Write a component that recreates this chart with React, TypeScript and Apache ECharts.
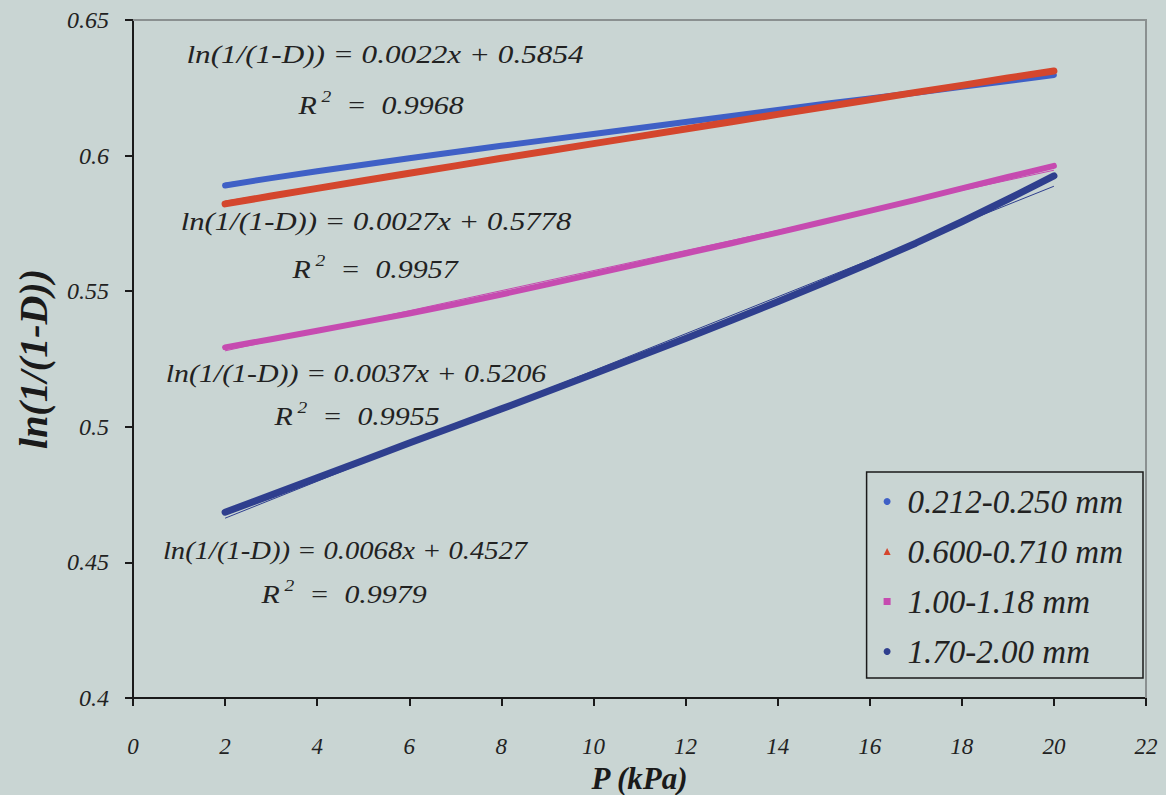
import React, { useEffect, useRef } from "react";
import * as echarts from "echarts";

const pressure = [2, 3, 4, 5, 6, 7, 8, 9, 10, 11, 12, 13, 14, 15, 16, 17, 18, 19, 20];

const sizeA = [0.5890, 0.5917, 0.5942, 0.5966, 0.5990, 0.6013, 0.6036, 0.6058, 0.6080, 0.6102, 0.6124, 0.6146, 0.6168, 0.6190, 0.6211, 0.6232, 0.6254, 0.6275, 0.6297];
const sizeB = [0.5822, 0.5851, 0.5879, 0.5907, 0.5935, 0.5962, 0.5990, 0.6017, 0.6044, 0.6071, 0.6098, 0.6125, 0.6152, 0.6179, 0.6206, 0.6233, 0.6259, 0.6286, 0.6312];
const sizeC = [0.5293, 0.5323, 0.5354, 0.5386, 0.5418, 0.5452, 0.5488, 0.5525, 0.5563, 0.5601, 0.5639, 0.5677, 0.5716, 0.5756, 0.5796, 0.5837, 0.5879, 0.5921, 0.5962];
const sizeD = [0.4685, 0.4748, 0.4812, 0.4876, 0.4940, 0.5003, 0.5066, 0.5130, 0.5195, 0.5260, 0.5326, 0.5393, 0.5461, 0.5531, 0.5603, 0.5677, 0.5756, 0.5839, 0.5925];

const seriesNames = ["0.212-0.250 mm", "0.600-0.710 mm", "1.00-1.18 mm", "1.70-2.00 mm"];
const slopes = [0.0022, 0.0027, 0.0037, 0.0068];
const intercepts = [0.5854, 0.5778, 0.5206, 0.4527];
const r2Values = ["0.9968", "0.9957", "0.9955", "0.9979"];

const colors = ["#3F60C6", "#D4462D", "#C64BB0", "#2F3F8E"];
const icons = ["circle", "triangle", "rect", "circle"];
const FONT = "Liberation Serif";

export default function App() {
  const ref = useRef<HTMLDivElement>(null);
  useEffect(() => {
    if (!ref.current) return;
    const chart = echarts.init(ref.current, null, { renderer: "svg" });
    const allData = [sizeA, sizeB, sizeC, sizeD];
    const widths = [6, 7, 6, 7];
    const dataSeries = allData.map((vals, i) => ({
      name: seriesNames[i],
      type: "line",
      data: vals.map((v, k) => [pressure[k], v]),
      showSymbol: false,
      symbol: icons[i],
      lineStyle: { width: widths[i], color: colors[i], cap: "round", join: "round" },
      itemStyle: { color: colors[i] },
      z: 3,
    }));
    const trendSeries = slopes.map((a, i) => {
      const x0 = pressure[0];
      const x1 = pressure[pressure.length - 1];
      return {
        name: "trend" + i,
        type: "line",
        data: [
          [x0, a * x0 + intercepts[i]],
          [x1, a * x1 + intercepts[i]],
        ],
        showSymbol: false,
        symbol: "none",
        lineStyle: { width: 1, color: colors[i] },
        z: 2,
        silent: true,
      };
    });

    const eqLabels = [
      { x: 385, y: 54, sx: 1.2, rx: 381, ry: 103 },
      { x: 376, y: 221, sx: 1.18, rx: 375, ry: 267 },
      { x: 356, y: 373, sx: 1.15, rx: 357, ry: 414 },
      { x: 345, y: 550, sx: 1.1, rx: 344, ry: 592 },
    ];
    const graphics: any[] = [];
    eqLabels.forEach((p, i) => {
      graphics.push({
        type: "text",
        x: p.x,
        y: p.y,
        scaleX: p.sx,
        style: {
          text: `ln(1/(1-D)) = ${slopes[i].toFixed(4)}x + ${intercepts[i].toFixed(4)}`,
          fontFamily: FONT,
          fontStyle: "italic",
          fontSize: 26,
          fill: "#222",
          align: "center",
          verticalAlign: "middle",
        },
        z: 10,
      });
      graphics.push({
        type: "text",
        x: p.rx,
        y: p.ry,
        scaleX: 1.15,
        style: {
          text: `{r|R}{sup| 2}{r|  =  ${r2Values[i]}}`,
          fill: "#222",
          align: "center",
          verticalAlign: "middle",
          rich: {
            r: { fontFamily: FONT, fontStyle: "italic", fontSize: 26, fill: "#222", verticalAlign: "bottom", lineHeight: 30 },
            sup: { fontFamily: FONT, fontStyle: "italic", fontSize: 17, fill: "#222", verticalAlign: "top", lineHeight: 30 },
          },
        },
        z: 10,
      });
    });
    graphics.push({
      type: "polyline",
      shape: { points: [[133, 20], [1146, 20], [1146, 698]] },
      style: { stroke: "#8A9090", lineWidth: 2, fill: null },
      z: 1,
    });

    chart.setOption({
      animation: false,
      backgroundColor: "#C9D5D3",
      grid: { left: 133, right: 20, top: 20, bottom: 97, containLabel: false, outerBoundsMode: "none" },
      xAxis: {
        type: "value",
        min: 0,
        max: 22,
        interval: 2,
        name: "P (kPa)",
        nameLocation: "middle",
        nameGap: 53,
        nameTextStyle: { fontFamily: FONT, fontStyle: "italic", fontWeight: "bold", fontSize: 31, color: "#1a1a1a" },
        axisLine: { show: true, onZero: false, lineStyle: { color: "#1a1a1a", width: 2 } },
        axisTick: { show: true, inside: false, length: 8, lineStyle: { color: "#1a1a1a", width: 2 } },
        axisLabel: { margin: 37, fontFamily: FONT, fontStyle: "italic", fontSize: 23, color: "#222" },
        splitLine: { show: false },
      },
      yAxis: {
        type: "value",
        min: 0.4,
        max: 0.65,
        interval: 0.05,
        name: "ln(1/(1-D))",
        nameLocation: "middle",
        nameGap: 80,
        nameRotate: 90,
        nameTextStyle: { fontFamily: FONT, fontStyle: "italic", fontWeight: "bold", fontSize: 40, color: "#1a1a1a" },
        axisLine: { show: true, onZero: false, lineStyle: { color: "#1a1a1a", width: 2 } },
        axisTick: { show: true, inside: false, length: 8, lineStyle: { color: "#1a1a1a", width: 2 } },
        axisLabel: { margin: 24, fontFamily: FONT, fontStyle: "italic", fontSize: 24, color: "#222" },
        splitLine: { show: false },
      },
      legend: {
        data: seriesNames.map((n, i) => ({ name: n, icon: icons[i] })),
        orient: "vertical",
        right: 23,
        top: 472,
        padding: [13, 20, 10, 17],
        itemGap: 17,
        itemWidth: 7,
        itemHeight: 7,
        borderColor: "#1a1a1a",
        borderWidth: 1.5,
        textStyle: { fontFamily: FONT, fontStyle: "italic", fontSize: 33, color: "#222", padding: [0, 0, 0, 12] },
      },
      graphic: graphics,
      series: [...trendSeries, ...dataSeries],
    });
    return () => chart.dispose();
  }, []);
  return (
    <div
      ref={ref}
      style={{ position: "fixed", left: 0, top: 0, width: 1166, height: 795 }}
    />
  );
}
